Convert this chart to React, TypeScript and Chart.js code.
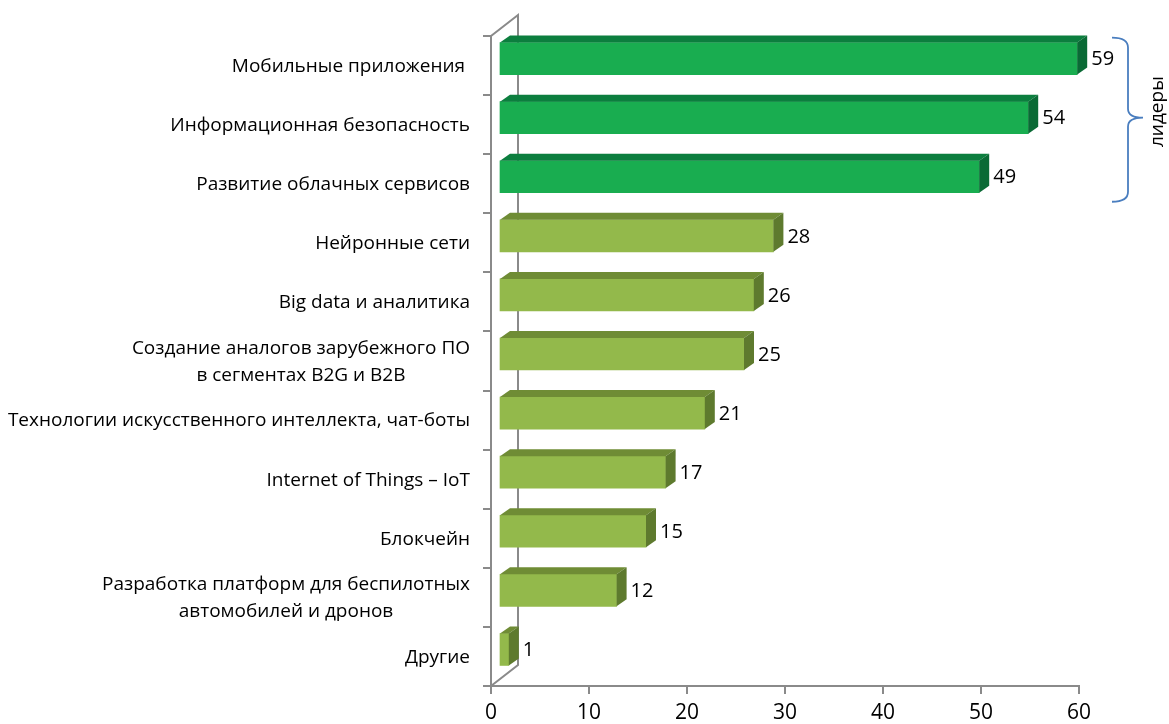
import React, { useEffect, useRef } from 'react';
import { Chart, registerables } from 'chart.js';

Chart.register(...registerables);

// ---- data ----
const categories: string[][] = [
  ['Мобильные приложения '],
  ['Информационная безопасность'],
  ['Развитие облачных сервисов'],
  ['Нейронные сети'],
  ['Big data и аналитика'],
  ['Создание аналогов зарубежного ПО', 'в сегментах B2G и B2B'],
  ['Технологии искусственного интеллекта, чат-боты'],
  ['Internet of Things – IoT'],
  ['Блокчейн'],
  ['Разработка платформ для беспилотных', 'автомобилей и дронов'],
  ['Другие'],
];
const values = [59, 54, 49, 28, 26, 25, 21, 17, 15, 12, 1];
const leaderCount = 3;
const xMin = 0;
const xMax = 60;
const xStep = 10;
const bracketLabel = 'лидеры';

// ---- styles ----
const FONT = "'Open Sans', 'DejaVu Sans', sans-serif";
const AXIS_GRAY = '#8a8a8a';
const LEADER = { front: '#19AD50', top: '#0C7E3E', side: '#0A6A35' };
const OTHER = { front: '#93B94B', top: '#6F8C35', side: '#5E7A2E' };
const FRONT_DX = 8;
const FRONT_DY = -7;
const DEPTH_DX = 10;
const DEPTH_DY = -7;
const WALL_DX = 27;
const WALL_DY = -21;

const colorsFor = (i: number) => (i < leaderCount ? LEADER : OTHER);

const bars3d = {
  id: 'bars3d',
  beforeDatasetsDraw(chart: any) {
    const { ctx, chartArea } = chart;
    ctx.save();
    ctx.strokeStyle = AXIS_GRAY;
    ctx.lineWidth = 2;
    ctx.beginPath();
    ctx.moveTo(chartArea.left, chartArea.top);
    ctx.lineTo(chartArea.left + WALL_DX, chartArea.top + WALL_DY);
    ctx.lineTo(chartArea.left + WALL_DX, chartArea.bottom + WALL_DY);
    ctx.lineTo(chartArea.left, chartArea.bottom);
    ctx.stroke();
    ctx.restore();
    ctx.save();
    ctx.translate(FRONT_DX, FRONT_DY);
  },
  afterDatasetsDraw(chart: any) {
    const { ctx } = chart;
    const meta = chart.getDatasetMeta(0);
    meta.data.forEach((el: any, i: number) => {
      const p = el.getProps(['x', 'y', 'base', 'height'], true);
      const top = p.y - p.height / 2;
      const bottom = p.y + p.height / 2;
      const c = colorsFor(i);
      ctx.fillStyle = c.top;
      ctx.beginPath();
      ctx.moveTo(p.base, top);
      ctx.lineTo(p.x, top);
      ctx.lineTo(p.x + DEPTH_DX, top + DEPTH_DY);
      ctx.lineTo(p.base + DEPTH_DX, top + DEPTH_DY);
      ctx.closePath();
      ctx.fill();
      ctx.fillStyle = c.side;
      ctx.beginPath();
      ctx.moveTo(p.x, top);
      ctx.lineTo(p.x + DEPTH_DX, top + DEPTH_DY);
      ctx.lineTo(p.x + DEPTH_DX, bottom + DEPTH_DY);
      ctx.lineTo(p.x, bottom);
      ctx.closePath();
      ctx.fill();
    });
    ctx.restore();

    // value labels
    ctx.save();
    ctx.fillStyle = '#000';
    ctx.font = `20px ${FONT}`;
    ctx.textAlign = 'left';
    ctx.textBaseline = 'middle';
    meta.data.forEach((el: any, i: number) => {
      const p = el.getProps(['x', 'y'], true);
      ctx.fillText(String(values[i]), p.x + FRONT_DX + DEPTH_DX + 4, p.y + FRONT_DY + 1);
    });
    ctx.restore();
  },
  afterDraw(chart: any) {
    const { ctx } = chart;
    const yScale = chart.scales.y;
    // category labels
    ctx.save();
    ctx.fillStyle = '#000';
    ctx.font = `19px ${FONT}`;
    ctx.textBaseline = 'middle';
    ctx.textAlign = 'center';
    const rightEdge = chart.chartArea.left - 21;
    const lh = 27;
    categories.forEach((lines, i) => {
      const cy = yScale.getPixelForValue(i);
      const w = Math.max(...lines.map((l) => ctx.measureText(l).width));
      const cx = rightEdge - w / 2;
      const y0 = cy - ((lines.length - 1) * lh) / 2 + 1;
      lines.forEach((l, k) => ctx.fillText(l, cx, y0 + k * lh));
    });
    ctx.restore();

    // bracket for leaders
    const yTop = yScale.getPixelForValue(0) - 28;
    const yBot = yScale.getPixelForValue(leaderCount - 1) + 18;
    const yMid = (yTop + yBot) / 2 - 2;
    const xL = 1112;
    const xV = 1128;
    const xT = 1143;
    ctx.save();
    ctx.strokeStyle = '#4A7EBF';
    ctx.lineWidth = 1.8;
    ctx.beginPath();
    ctx.moveTo(xL, yTop);
    ctx.quadraticCurveTo(xV, yTop, xV, yTop + 10);
    ctx.lineTo(xV, yMid - 9);
    ctx.quadraticCurveTo(xV, yMid, xT, yMid);
    ctx.quadraticCurveTo(xV, yMid, xV, yMid + 9);
    ctx.lineTo(xV, yBot - 10);
    ctx.quadraticCurveTo(xV, yBot, xL, yBot);
    ctx.stroke();
    ctx.restore();

    ctx.save();
    ctx.translate(1158, yMid - 6);
    ctx.rotate(-Math.PI / 2);
    ctx.fillStyle = '#000';
    ctx.font = `19px ${FONT}`;
    ctx.textAlign = 'center';
    ctx.textBaseline = 'middle';
    ctx.fillText(bracketLabel, 0, 0);
    ctx.restore();
  },
};

export default function App() {
  const ref = useRef<HTMLCanvasElement | null>(null);
  useEffect(() => {
    if (!ref.current) return;
    const chart = new Chart(ref.current, {
      type: 'bar',
      data: {
        labels: categories.map((c) => c.join(' ')),
        datasets: [
          {
            data: values,
            backgroundColor: values.map((_, i) => colorsFor(i).front),
            borderWidth: 0,
            barThickness: 32,
          },
        ],
      },
      options: {
        indexAxis: 'y',
        animation: false,
        responsive: true,
        maintainAspectRatio: false,
        layout: { padding: { top: 36, right: 90, bottom: 0, left: 0 } },
        plugins: { legend: { display: false }, tooltip: { enabled: false } },
        scales: {
          y: {
            afterFit: (s: any) => {
              s.width = 491;
            },
            ticks: { display: false },
            grid: {
              drawOnChartArea: false,
              drawTicks: true,
              tickLength: 8,
              color: AXIS_GRAY,
              lineWidth: 2,
              offset: true,
            },
            border: { display: true, color: AXIS_GRAY, width: 2 },
          },
          x: {
            min: xMin,
            max: xMax,
            afterFit: (s: any) => {
              s.height = 38;
            },
            ticks: {
              stepSize: xStep,
              color: '#000',
              font: { size: 21, family: FONT },
              padding: 6,
            },
            grid: {
              drawOnChartArea: false,
              drawTicks: true,
              tickLength: 8,
              color: AXIS_GRAY,
              lineWidth: 2,
            },
            border: { display: true, color: AXIS_GRAY, width: 2 },
          },
        },
      },
      plugins: [bars3d],
    });
    return () => chart.destroy();
  }, []);
  return (
    <div style={{ position: 'fixed', left: 0, top: 0, width: 1169, height: 724, background: '#fff' }}>
      <canvas ref={ref} />
    </div>
  );
}
